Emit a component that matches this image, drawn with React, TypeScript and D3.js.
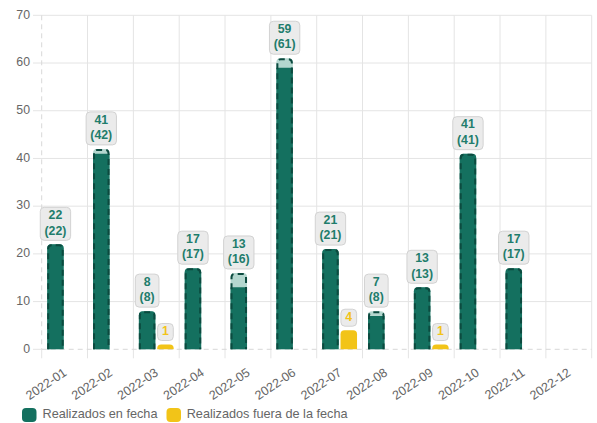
import React from "react";
import * as d3 from "d3";

const categories = ["2022-01","2022-02","2022-03","2022-04","2022-05","2022-06","2022-07","2022-08","2022-09","2022-10","2022-11","2022-12"];
const onTime = [22, 41, 8, 17, 13, 59, 21, 7, 13, 41, 17, 0];
const totalPlanned = [22, 42, 8, 17, 16, 61, 21, 8, 13, 41, 17, 0];
const late = [0, 0, 1, 0, 0, 0, 4, 0, 1, 0, 0, 0];
const yTicks = [0, 10, 20, 30, 40, 50, 60, 70];
const seriesNames = ["Realizados en fecha", "Realizados fuera de la fecha"];

const W = 597, H = 423;
const FONT = "'Liberation Sans', Arial, Helvetica, sans-serif";
const GREEN = "#14705f";
const LIGHT = "#b4d7cf";
const DASH = "#0c4a3f";
const YELLOW = "#f2c418";
const LABEL_GREEN = "#1f7d6c";
const GRID = "#e4e4e4";
const TEXT = "#666";

let ctx: CanvasRenderingContext2D | null = null;
function measure(t: string, font: string) {
  if (!ctx) ctx = document.createElement("canvas").getContext("2d");
  if (!ctx) return t.length * 6.7;
  ctx.font = font;
  return ctx.measureText(t).width;
}

function barPath(x: number, w: number, yTop: number, y0: number, r: number, closed: boolean) {
  const h = y0 - yTop;
  const rr = Math.min(r, w / 2, h);
  if (h <= 0) return "";
  let p = `M${x},${y0} L${x},${yTop + rr} Q${x},${yTop} ${x + rr},${yTop} L${x + w - rr},${yTop} Q${x + w},${yTop} ${x + w},${yTop + rr} L${x + w},${y0}`;
  if (closed) p += " Z";
  return p;
}

export default function App() {
  const left = 41.7, right = 591.7, top = 15.3, bottom = 349.3;
  const x = d3.scaleBand<string>().domain(categories).range([left, right]).padding(0);
  const bw = x.bandwidth();
  const x1 = d3.scaleBand<string>().domain(["a", "b"]).range([bw * 0.1, bw * 0.9]).padding(0);
  const sb = x1.bandwidth();
  const barW = sb * 0.9;
  const y = d3.scaleLinear().domain([0, 70]).range([bottom, top]);

  const edges = d3.range(categories.length + 1).map((i) => left + i * bw);
  const labelFont = `bold 12px ${FONT}`;

  return (
    <svg width={W} height={H} style={{ position: "absolute", left: 0, top: 0, background: "#fff" }} fontFamily={FONT}>
      {yTicks.map((t) => (
        t === 0 ? null :
        <line key={"h" + t} x1={33} x2={right} y1={y(t)} y2={y(t)} stroke={GRID} strokeWidth={1} />
      ))}
      <line x1={33} x2={left} y1={y(0)} y2={y(0)} stroke={GRID} />
      {edges.map((ex, i) => (
        i === 0 ? null :
        <g key={"v" + i}>
          <line x1={ex} x2={ex} y1={top} y2={bottom} stroke={GRID} />
          <line x1={ex} x2={ex} y1={bottom} y2={bottom + 9} stroke={GRID} />
        </g>
      ))}
      <line x1={left} x2={left} y1={bottom} y2={bottom + 9} stroke={GRID} />
      <line x1={left} x2={left} y1={top} y2={bottom} stroke="#d8d8d8" strokeDasharray="5 4" />
      <line x1={left} x2={right} y1={bottom} y2={bottom} stroke="#d8d8d8" strokeDasharray="5 4" />

      {yTicks.map((t) => (
        <text key={"yt" + t} x={30} y={y(t)} textAnchor="end" dominantBaseline="middle" fontSize={12.3} fill={TEXT}>{t}</text>
      ))}
      {categories.map((c) => {
        const cx = (x(c) as number) + bw / 2;
        return (
          <text key={"xt" + c} transform={`translate(${cx + 1},${bottom + 22.5}) rotate(-34)`} textAnchor="end" dominantBaseline="middle" fontSize={12.5} fill={TEXT}>{c}</text>
        );
      })}

      {categories.map((c, i) => {
        const bx = (x(c) as number) + (x1("a") as number) + sb * 0.05;
        const lx = (x(c) as number) + (x1("b") as number) + sb * 0.05;
        const els: React.ReactNode[] = [];
        if (totalPlanned[i] > 0) {
          els.push(<path key="t" d={barPath(bx, barW, y(totalPlanned[i]), y(0), 4, true)} fill={LIGHT} />);
        }
        if (onTime[i] > 0) {
          els.push(<path key="o" d={barPath(bx, barW, y(onTime[i]), y(0), onTime[i] === totalPlanned[i] ? 4 : 0, true)} fill={GREEN} />);
        }
        if (totalPlanned[i] > 0) {
          els.push(<path key="d" d={barPath(bx + 1, barW - 2, y(totalPlanned[i]) + 1, y(0), 3.5, false)} fill="none" stroke={DASH} strokeWidth={2} strokeDasharray="6 4" />);
        }
        if (late[i] > 0) {
          els.push(<path key="l" d={barPath(lx, barW, y(late[i]), y(0), 4, true)} fill={YELLOW} />);
        }
        if (totalPlanned[i] > 0) {
          const l1 = String(onTime[i]);
          const l2 = `(${totalPlanned[i]})`;
          const tw = Math.max(measure(l1, labelFont), measure(l2, labelFont));
          const w = tw + 9;
          const h = 33;
          const cx = bx + barW / 2;
          const by = y(totalPlanned[i]) - 4 - h;
          els.push(
            <g key="lbl">
              <rect x={cx - w / 2} y={by} width={w} height={h} rx={4} fill="#ebebeb" stroke="#d2d2d2" />
              <text x={cx} y={by + 8.5} textAnchor="middle" dominantBaseline="middle" fontSize={12.3} fontWeight="bold" fill={LABEL_GREEN}>{l1}</text>
              <text x={cx} y={by + 24} textAnchor="middle" dominantBaseline="middle" fontSize={12.3} fontWeight="bold" fill={LABEL_GREEN}>{l2}</text>
            </g>
          );
        }
        if (late[i] > 0) {
          const l = String(late[i]);
          const w = measure(l, labelFont) + 9;
          const h = 17;
          const cx = lx + barW / 2;
          const by = y(late[i]) - 4 - h;
          els.push(
            <g key="lbl2">
              <rect x={cx - w / 2} y={by} width={w} height={h} rx={4} fill="#ebebeb" stroke="#d2d2d2" />
              <text x={cx} y={by + 8.5} textAnchor="middle" dominantBaseline="middle" fontSize={12.3} fontWeight="bold" fill={YELLOW}>{l}</text>
            </g>
          );
        }
        return <g key={"b" + c}>{els}</g>;
      })}

      <rect x={22} y={408} width={14.5} height={14} rx={4} fill={GREEN} />
      <text x={42.5} y={415} dominantBaseline="middle" fontSize={12.7} fill={TEXT}>{seriesNames[0]}</text>
      <rect x={166.5} y={408} width={14.5} height={14} rx={4} fill={YELLOW} />
      <text x={186.7} y={415} dominantBaseline="middle" fontSize={12.7} fill={TEXT}>{seriesNames[1]}</text>
    </svg>
  );
}
